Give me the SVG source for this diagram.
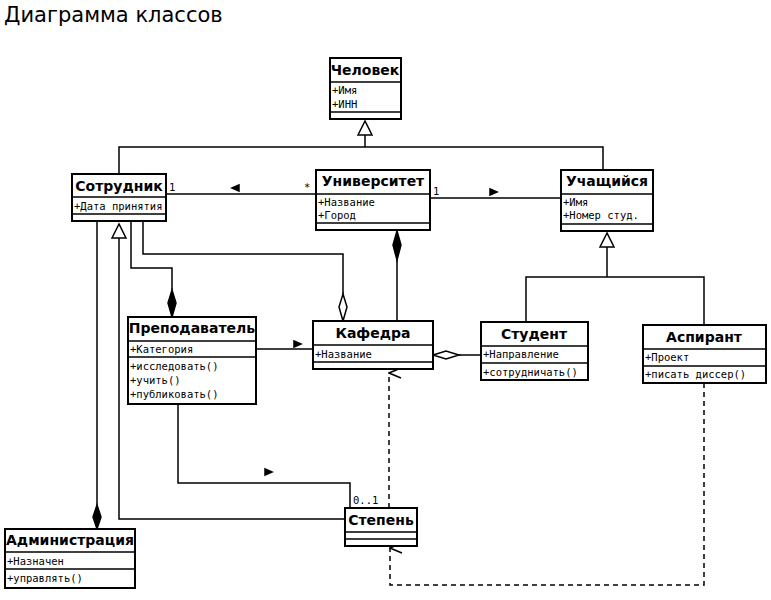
<svg xmlns="http://www.w3.org/2000/svg" width="771" height="600" viewBox="0 0 771 600">
<style>
.b{fill:#fff;stroke:#000;stroke-width:2}
.s{stroke:#000;stroke-width:1.5;fill:none}
.n{font-family:"DejaVu Sans",sans-serif;font-weight:bold;font-size:14px;text-anchor:middle}
.a{font-family:"DejaVu Sans Mono",monospace;font-size:10.5px}
.l{stroke:#000;stroke-width:1.5;fill:none}
.d{stroke:#000;stroke-width:1.5;fill:none;stroke-dasharray:5,4}
.t{fill:#fff;stroke:#000;stroke-width:1.5}
.f{fill:#000;stroke:#000;stroke-width:1.5}
</style>
<defs>
<marker id="open" markerWidth="12" markerHeight="14" refX="6" refY="1" orient="auto-start-reverse" markerUnits="userSpaceOnUse" viewBox="0 0 12 14">
<path d="M1,13 L6,1 L11,13" fill="none" stroke="#000" stroke-width="1.5"/>
</marker>
</defs>
<rect width="771" height="600" fill="#fff"/>
<text x="4" y="22" font-family="DejaVu Sans,sans-serif" font-size="21">Диаграмма классов</text>
<g id="connectors">
<path class="l" d="M365,135 V147 M119,174 V147 H603 V170"/>
<path class="t" d="M365,121 L358,135 H372 Z"/>
<path class="l" d="M166,194 H316"/>
<path class="f" d="M232,188 L239,185 V191 Z"/>
<text class="a" x="169" y="191">1</text><text class="a" x="304" y="191">*</text>
<path class="l" d="M430,198 H561"/>
<path class="f" d="M497,192 L490,189 V195 Z"/>
<text class="a" x="433" y="195">1</text>
<path class="l" d="M607,247 V277 M526,322 V277 H704 V325"/>
<path class="t" d="M607,233 L600,247 H614 Z"/>
<path class="l" d="M131,221 V268 H172 V290"/>
<path class="f" d="M172,290 L176,303 L172,317 L168,303 Z"/>
<path class="l" d="M143,221 V254 H343 V294"/>
<path class="t" d="M343,294 L347,307 L343,321 L339,307 Z"/>
<path class="l" d="M397,260 V321"/>
<path class="f" d="M397,231 L401,245 L397,260 L393,245 Z"/>
<path class="l" d="M459,355 H481"/>
<path class="t" d="M433,355 L446,351 L459,355 L446,359 Z"/>
<path class="l" d="M256,349 H313"/>
<path class="f" d="M301,344 L294,341 V347 Z"/>
<path class="l" d="M97,221 V505"/>
<path class="f" d="M97,505 L101,517 L97,529 L93,517 Z"/>
<path class="l" d="M345,519 H119 V238"/>
<path class="t" d="M119,224 L112,238 H126 Z"/>
<path class="l" d="M178,404 V483 H350 V508"/>
<path class="f" d="M272,472 L265,469 V475 Z"/>
<text class="a" x="353" y="504">0..1</text>
<path class="d" d="M389,508 V373" marker-end="url(#open)"/>
<path class="d" d="M704,383 V585 H390 V548" marker-end="url(#open)"/>
</g>
<g id="chelovek">
<rect class="b" x="330" y="58" width="71" height="61"/><path class="s" d="M330,82 H401 M330,112 H401"/>
<text class="n" x="365" y="75">Человек</text>
<text class="a" x="332" y="94">+Имя</text><text class="a" x="332" y="108">+ИНН</text>
</g>
<g id="sotrudnik">
<rect class="b" x="72" y="174" width="94" height="47"/><path class="s" d="M72,197 H166 M72,214 H166"/>
<text class="n" x="119" y="191">Сотрудник</text>
<text class="a" x="74" y="210">+Дата принятия</text>
</g>
<g id="universitet">
<rect class="b" x="316" y="170" width="114" height="60"/><path class="s" d="M316,194 H430 M316,223 H430"/>
<text class="n" x="373" y="186">Университет</text>
<text class="a" x="318" y="206">+Название</text><text class="a" x="318" y="219">+Город</text>
</g>
<g id="uchashiysya">
<rect class="b" x="561" y="170" width="92" height="61"/><path class="s" d="M561,194 H653 M561,224 H653"/>
<text class="n" x="607" y="186">Учащийся</text>
<text class="a" x="563" y="206">+Имя</text><text class="a" x="563" y="219">+Номер студ.</text>
</g>
<g id="prepodavatel">
<rect class="b" x="128" y="317" width="128" height="87"/><path class="s" d="M128,341 H256 M128,357 H256"/>
<text class="n" x="192" y="333">Преподаватель</text>
<text class="a" x="130" y="353">+Категория</text>
<text class="a" x="130" y="370">+исследовать()</text><text class="a" x="130" y="384">+учить()</text><text class="a" x="130" y="398">+публиковать()</text>
</g>
<g id="kafedra">
<rect class="b" x="313" y="321" width="120" height="48"/><path class="s" d="M313,345 H433 M313,362 H433"/>
<text class="n" x="373" y="338">Кафедра</text>
<text class="a" x="315" y="358">+Название</text>
</g>
<g id="student">
<rect class="b" x="481" y="322" width="107" height="58"/><path class="s" d="M481,346 H588 M481,363 H588"/>
<text class="n" x="534" y="339">Студент</text>
<text class="a" x="483" y="358">+Направление</text>
<text class="a" x="483" y="376">+сотрудничать()</text>
</g>
<g id="aspirant">
<rect class="b" x="643" y="325" width="123" height="58"/><path class="s" d="M643,349 H766 M643,366 H766"/>
<text class="n" x="704" y="342">Аспирант</text>
<text class="a" x="645" y="361">+Проект</text>
<text class="a" x="645" y="378">+писать диссер()</text>
</g>
<g id="stepen">
<rect class="b" x="345" y="508" width="72" height="38"/><path class="s" d="M345,532 H417 M345,539 H417"/>
<text class="n" x="381" y="525">Степень</text>
</g>
<g id="administratsiya">
<rect class="b" x="5" y="529" width="130" height="59"/><path class="s" d="M5,552 H135 M5,569 H135"/>
<text class="n" x="70" y="545">Администрация</text>
<text class="a" x="7" y="565">+Назначен</text>
<text class="a" x="7" y="582">+управлять()</text>
</g>
</svg>
